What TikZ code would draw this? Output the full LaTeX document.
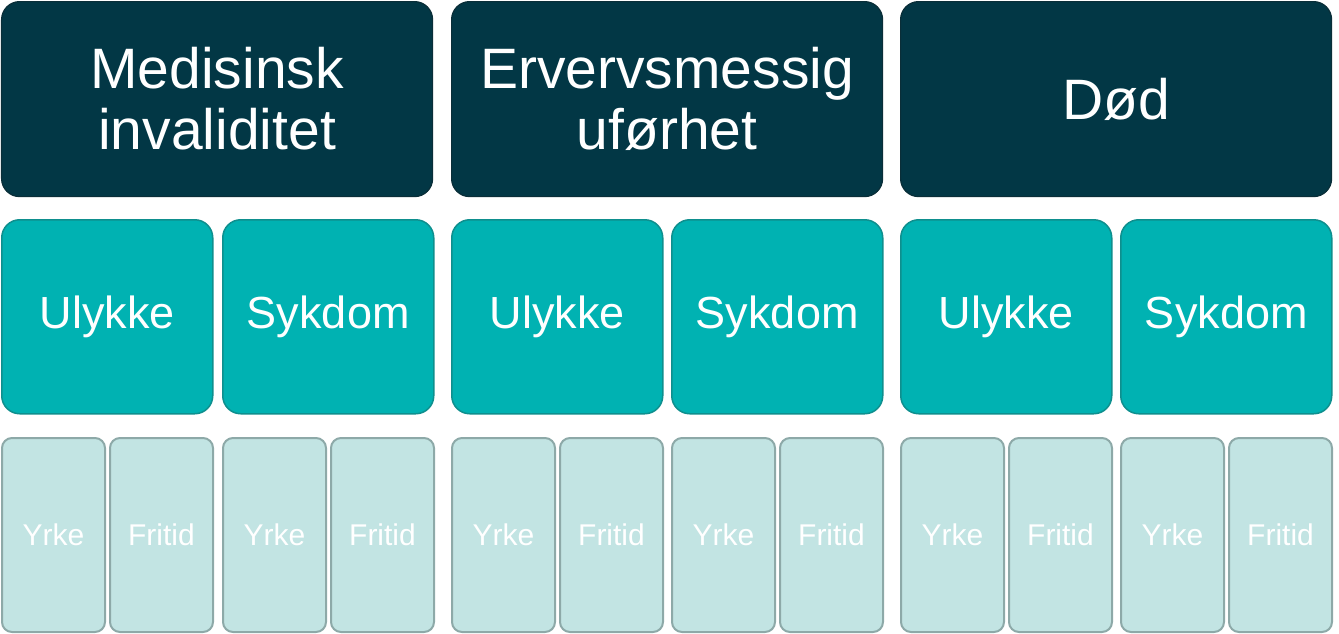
\documentclass[tikz,border=0pt]{standalone}
\usepackage{fontspec}
\setmainfont{Liberation Sans}
\definecolor{darkteal}{HTML}{023745}
\definecolor{darkedge}{HTML}{0A2E38}
\definecolor{midteal}{HTML}{00B2B2}
\definecolor{midedge}{HTML}{0E8F8E}
\definecolor{lightteal}{HTML}{C2E4E3}
\definecolor{lightedge}{HTML}{8DA9A8}
\begin{document}
\begin{tikzpicture}[x=1pt,y=-1pt,
  topbox/.style={draw=darkedge, fill=darkteal, line width=1.2pt, rounded corners=18pt,
    anchor=north west, minimum width=431pt, minimum height=195pt, text=white,
    align=center, inner sep=0pt, font=\fontsize{57}{61}\selectfont},
  midbox/.style={draw=midedge, fill=midteal, line width=1.5pt, rounded corners=18pt,
    anchor=north west, minimum width=211pt, minimum height=194pt, text=white,
    inner sep=0pt, font=\fontsize{45}{50}\selectfont},
  lowbox/.style={draw=lightedge, fill=lightteal, line width=2pt, rounded corners=10pt,
    anchor=north west, minimum width=103pt, minimum height=194pt, text=white,
    inner sep=0pt, font=\fontsize{30}{34}\selectfont}]
\useasboundingbox (0,0) rectangle (1339,633);
% top row
\node[topbox] (t1) at (1,1) {Medisinsk\\invaliditet};
\node[topbox] (t2) at (451,1) {Ervervsmessig\\uførhet};
\node[topbox] (t3) at (900,1) {Død};
% middle row
\node[midbox] (m1) at (1,219) {Ulykke};
\node[midbox] (m2) at (222,219) {Sykdom};
\node[midbox] (m3) at (451,219) {Ulykke};
\node[midbox] (m4) at (671,219) {Sykdom};
\node[midbox] (m5) at (900,219) {Ulykke};
\node[midbox] (m6) at (1120,219) {Sykdom};
% bottom row
\node[lowbox] (b1) at (1,437) {Yrke};
\node[lowbox] (b2) at (109,437) {Fritid};
\node[lowbox] (b3) at (222,437) {Yrke};
\node[lowbox] (b4) at (330,437) {Fritid};
\node[lowbox] (b5) at (451,437) {Yrke};
\node[lowbox] (b6) at (559,437) {Fritid};
\node[lowbox] (b7) at (671,437) {Yrke};
\node[lowbox] (b8) at (779,437) {Fritid};
\node[lowbox] (b9) at (900,437) {Yrke};
\node[lowbox] (b10) at (1008,437) {Fritid};
\node[lowbox] (b11) at (1120,437) {Yrke};
\node[lowbox] (b12) at (1228,437) {Fritid};
\end{tikzpicture}
\end{document}
